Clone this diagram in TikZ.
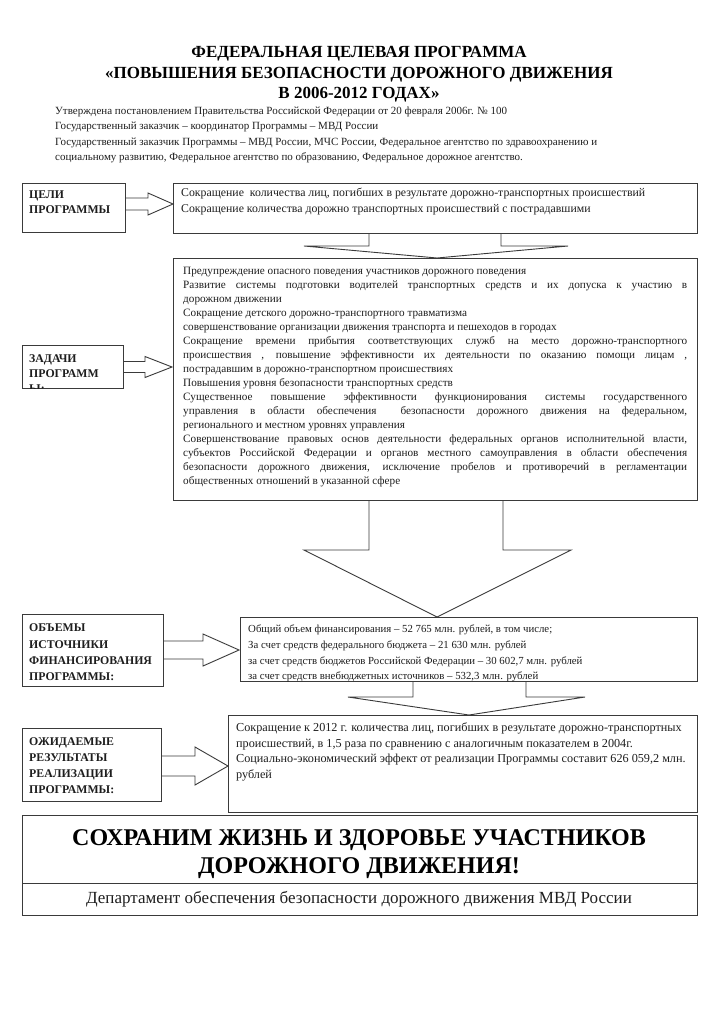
\documentclass[tikz,border=0pt]{standalone}
\usepackage{fontspec}
\setmainfont{Liberation Serif}
\definecolor{ln}{HTML}{3A3A3A}
\definecolor{tx}{HTML}{1E1E1E}
\tikzset{
  frame/.style={draw=ln, line width=0.9pt, inner sep=0pt, outer sep=0pt, anchor=north west},
  blk/.style={draw=ln, line width=0.9pt, fill=white, line join=miter},
  ttl/.style={font=\fontsize{17}{20}\selectfont\bfseries, text=black, anchor=base, inner sep=0pt},
  hdr/.style={font=\fontsize{11}{13}\selectfont, text=tx, anchor=base west, inner sep=0pt},
  body/.style={font=\fontsize{10.8}{13}\selectfont, text=tx, anchor=base west, inner sep=0pt},
  tbody/.style={font=\fontsize{11.2}{13}\selectfont, text=tx, anchor=base west, inner sep=0pt},
  gbody/.style={font=\fontsize{11.8}{14}\selectfont, text=tx, anchor=base west, inner sep=0pt},
  rbody/.style={font=\fontsize{12.2}{14}\selectfont, text=tx, anchor=base west, inner sep=0pt},
  lbl/.style={font=\fontsize{11.8}{13}\selectfont\bfseries, text=tx, anchor=base west, inner sep=0pt},
  big/.style={font=\fontsize{24}{28}\selectfont\bfseries, text=black, anchor=base, inner sep=0pt},
  foot/.style={font=\fontsize{17}{20}\selectfont, text=tx, anchor=base, inner sep=0pt}
}
\newcommand\harrowshape[6]{% start x, head base x, tip x, y, shaft half, head half
  \draw[blk] (#1,#4-#5) -- (#2,#4-#5) -- (#2,#4-#6) -- (#3,#4) -- (#2,#4+#6) -- (#2,#4+#5) -- (#1,#4+#5);}
\newcommand\varrowshape[8]{% shaft left, shaft right, top y, base y, head left, head right, tip x, tip y
  \draw[blk] (#1,#3) -- (#1,#4) -- (#5,#4) -- (#7,#8) -- (#6,#4) -- (#2,#4) -- (#2,#3);}
\newcommand\jl[1]{\makebox[504pt][s]{#1}}
\begin{document}
\begin{tikzpicture}[x=1pt,y=-1pt]
\useasboundingbox[fill=white] (0,0) rectangle (718,1017);

% ---------- title and header ----------
\node[ttl] (h1) at (359,57) {ФЕДЕРАЛЬНАЯ ЦЕЛЕВАЯ ПРОГРАММА};
\node[ttl] (h2) at (359,78) {«ПОВЫШЕНИЯ БЕЗОПАСНОСТИ ДОРОЖНОГО ДВИЖЕНИЯ};
\node[ttl] (h3) at (359,98) {В 2006-2012 ГОДАХ»};
\node[hdr] (p1) at (55,114) {Утверждена постановлением Правительства Российской Федерации от 20 февраля 2006г. № 100};
\node[hdr] (p2) at (55,129) {Государственный заказчик – координатор Программы – МВД России};
\node[hdr] (p3) at (55,145) {Государственный заказчик Программы – МВД России, МЧС России, Федеральное агентство по здравоохранению и};
\node[hdr] (p4) at (55,160) {социальному развитию, Федеральное агентство по образованию, Федеральное дорожное агентство.};

% ---------- block arrows (drawn first, boxes on top) ----------
\harrowshape{125}{148}{173}{204}{6}{11}
\harrowshape{123}{145}{172}{367}{5.5}{10.5}
\harrowshape{163}{203}{239}{650}{9}{16}
\harrowshape{161}{195}{228}{766}{10}{19}
\varrowshape{369}{501}{233}{246}{304}{568}{437}{258}
\varrowshape{369}{503}{500}{550}{304}{571}{437}{617}
\varrowshape{413}{526}{681}{697}{348}{585}{469}{715}

% ---------- boxes ----------
\node[frame, minimum width=103pt, minimum height=49pt] (celi) at (22,183) {};
\node[frame, minimum width=524pt, minimum height=50pt] (goals) at (173,183) {};
\node[frame, minimum width=101pt, minimum height=43pt] (zad) at (22,345) {};
\node[frame, minimum width=524pt, minimum height=242pt] (tasks) at (173,258) {};
\node[frame, minimum width=141pt, minimum height=72pt] (obj) at (22,614) {};
\node[frame, minimum width=457pt, minimum height=64pt] (fund) at (240,617) {};
\node[frame, minimum width=139pt, minimum height=73pt] (ozh) at (22,728) {};
\node[frame, minimum width=469pt, minimum height=97pt] (res) at (228,715) {};
\node[frame, minimum width=675pt, minimum height=68pt] (banner) at (22,815) {};
\node[frame, minimum width=675pt, minimum height=32pt] (dept) at (22,883) {};

% ---------- left labels ----------
\node[lbl] (c1) at (29,198) {ЦЕЛИ};
\node[lbl] (c2) at (29,213) {ПРОГРАММЫ};
\begin{scope}
\clip (22,345) rectangle (123,388);
\node[lbl] (z1) at (29,362) {ЗАДАЧИ};
\node[lbl] (z2) at (29,377) {ПРОГРАММ};
\node[lbl] (z3) at (29,392) {Ы:};
\end{scope}
\node[lbl] (o1) at (29,631) {ОБЪЕМЫ};
\node[lbl] (o2) at (29,648) {ИСТОЧНИКИ};
\node[lbl] (o3) at (29,664) {ФИНАНСИРОВАНИЯ};
\node[lbl] (o4) at (29,680) {ПРОГРАММЫ:};
\node[lbl] (e1) at (29,745) {ОЖИДАЕМЫЕ};
\node[lbl] (e2) at (29,761) {РЕЗУЛЬТАТЫ};
\node[lbl] (e3) at (29,777) {РЕАЛИЗАЦИИ};
\node[lbl] (e4) at (29,793) {ПРОГРАММЫ:};

% ---------- goals ----------
\node[gbody] (g1) at (181,196) {Сокращение\ \ количества лиц, погибших в результате дорожно-транспортных происшествий};
\node[gbody] (g2) at (181,212) {Сокращение количества дорожно транспортных происшествий с пострадавшими};

% ---------- tasks ----------
\node[tbody] (t1) at (183,274) {Предупреждение опасного поведения участников дорожного поведения};
\node[tbody] (t2) at (183,288) {\jl{Развитие системы подготовки водителей транспортных средств и их допуска к участию в}};
\node[tbody] (t3) at (183,302) {дорожном движении};
\node[tbody] (t4) at (183,316) {Сокращение детского дорожно-транспортного травматизма};
\node[tbody] (t5) at (183,330) {совершенствование организации движения транспорта и пешеходов в городах};
\node[tbody] (t6) at (183,344) {\jl{Сокращение времени прибытия соответствующих служб на место дорожно-транспортного}};
\node[tbody] (t7) at (183,358) {\jl{происшествия , повышение эффективности их деятельности по оказанию помощи лицам ,}};
\node[tbody] (t8) at (183,372) {пострадавшим в дорожно-транспортном происшествиях};
\node[tbody] (t9) at (183,386) {Повышения уровня безопасности транспортных средств};
\node[tbody] (t10) at (183,400) {\jl{Существенное повышение эффективности функционирования системы государственного}};
\node[tbody] (t11) at (183,414) {\jl{управления в области обеспечения \ безопасности дорожного движения на федеральном,}};
\node[tbody] (t12) at (183,428) {регионального и местном уровнях управления};
\node[tbody] (t13) at (183,442) {\jl{Совершенствование правовых основ деятельности федеральных органов исполнительной власти,}};
\node[tbody] (t14) at (183,456) {\jl{субъектов Российской Федерации и органов местного самоуправления в области обеспечения}};
\node[tbody] (t15) at (183,470) {\jl{безопасности дорожного движения, исключение пробелов и противоречий в регламентации}};
\node[tbody] (t16) at (183,484) {общественных отношений в указанной сфере};

% ---------- funding ----------
\node[body] (f1) at (248,632) {Общий объем финансирования – 52 765 млн. рублей, в том числе;};
\node[body] (f2) at (248,648) {За счет средств федерального бюджета – 21 630 млн. рублей};
\node[body] (f3) at (248,664) {за счет средств бюджетов Российской Федерации – 30 602,7 млн. рублей};
\node[body] (f4) at (248,679) {за счет средств внебюджетных источников – 532,3 млн. рублей};

% ---------- results ----------
\node[rbody] (r1) at (236,731) {Сокращение к 2012 г. количества лиц, погибших в результате дорожно-транспортных};
\node[rbody] (r2) at (236,747) {происшествий, в 1,5 раза по сравнению с аналогичным показателем в 2004г.};
\node[rbody] (r3) at (236,762) {Социально-экономический эффект от реализации Программы составит 626 059,2 млн.};
\node[rbody] (r4) at (236,778) {рублей};

% ---------- banner ----------
\node[big] (b1) at (359,845) {СОХРАНИМ ЖИЗНЬ И ЗДОРОВЬЕ УЧАСТНИКОВ};
\node[big] (b2) at (359,873) {ДОРОЖНОГО ДВИЖЕНИЯ!};
\node[foot] (d1) at (359,903) {Департамент обеспечения безопасности дорожного движения МВД России};
\end{tikzpicture}
\end{document}
